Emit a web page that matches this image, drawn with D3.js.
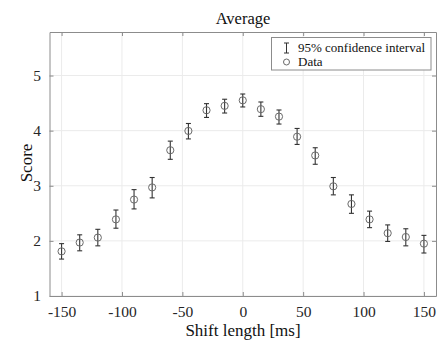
<!DOCTYPE html>
<html><head><meta charset="utf-8">
<script src="https://cdn.jsdelivr.net/npm/d3@7"></script>
<style>body{margin:0;background:#fff}svg{display:block}text{font-family:"Liberation Serif","Times New Roman",Times,serif}</style>
</head><body>
<script>
const shifts = [-150,-135,-120,-105,-90,-75,-60,-45,-30,-15,0,15,30,45,60,75,90,105,120,135,150];
const means  = [1.81,1.97,2.06,2.39,2.75,2.97,3.645,3.995,4.37,4.45,4.55,4.39,4.255,3.89,3.55,2.99,2.67,2.39,2.14,2.07,1.95];
const lower  = [1.67,1.82,1.91,2.23,2.58,2.78,3.48,3.85,4.24,4.32,4.43,4.26,4.12,3.75,3.39,2.835,2.50,2.24,1.99,1.91,1.78];
const upper  = [1.95,2.11,2.21,2.56,2.93,3.15,3.81,4.13,4.49,4.57,4.665,4.52,4.375,4.04,3.69,3.15,2.835,2.54,2.29,2.22,2.10];
const xTicks = [-150,-100,-50,0,50,100,150];
const yTicks = [1,2,3,4,5];
const legendLabels = ["95% confidence interval","Data"];

const W=439,H=341;
const m={l:49.5,t:32,r:3,b:45};
const svg=d3.select("body").append("svg").attr("width",W).attr("height",H);
const x=d3.scaleLinear().domain([-160,160]).range([m.l,W-m.r]);
const y=d3.scaleLinear().domain([1,5.79]).range([296,m.t]);
const font='"Liberation Serif","Times New Roman",Times,serif';
const fmt=d=>String(d);

// grid
const g=svg.append("g");
g.selectAll(".vg").data(xTicks).join("line").attr("x1",d=>x(d)).attr("x2",d=>x(d)).attr("y1",y(1)).attr("y2",m.t).attr("stroke","#ebebeb");
g.selectAll(".hg").data(yTicks).join("line").attr("x1",m.l).attr("x2",W-m.r).attr("y1",d=>y(d)).attr("y2",d=>y(d)).attr("stroke","#ebebeb");

// axes
const axB=svg.append("g").attr("transform",`translate(0,${y(1)})`).call(d3.axisBottom(x).tickValues(xTicks).tickFormat(fmt).tickSizeInner(-4).tickSizeOuter(0).tickPadding(10));
const axT=svg.append("g").attr("transform",`translate(0,${m.t})`).call(d3.axisTop(x).tickValues(xTicks).tickSizeInner(-4).tickSizeOuter(0).tickFormat(""));
const axL=svg.append("g").attr("transform",`translate(${m.l},0)`).call(d3.axisLeft(y).tickValues(yTicks).tickFormat(fmt).tickSizeInner(-4).tickSizeOuter(0).tickPadding(8.5));
const axR=svg.append("g").attr("transform",`translate(${W-m.r},0)`).call(d3.axisRight(y).tickValues(yTicks).tickSizeInner(-4).tickSizeOuter(0).tickFormat(""));
[axB,axT,axL,axR].forEach(a=>{
  a.attr("font-family",font).attr("font-size",15.5);
  a.select(".domain").attr("stroke","#8c8c8c");
  a.selectAll(".tick line").attr("stroke","#8c8c8c");
  a.selectAll("text").attr("fill","#262626");
});
axB.selectAll("text").attr("dy","0.71em");

// error bars
const idx=d3.range(shifts.length);
const eb=svg.append("g").attr("stroke","#333").attr("stroke-width",1.1);
eb.selectAll(".v").data(idx).join("line").attr("x1",i=>x(shifts[i])).attr("x2",i=>x(shifts[i])).attr("y1",i=>y(lower[i])).attr("y2",i=>y(upper[i]));
eb.selectAll(".c1").data(idx).join("line").attr("x1",i=>x(shifts[i])-2.5).attr("x2",i=>x(shifts[i])+2.5).attr("y1",i=>y(lower[i])).attr("y2",i=>y(lower[i]));
eb.selectAll(".c2").data(idx).join("line").attr("x1",i=>x(shifts[i])-2.5).attr("x2",i=>x(shifts[i])+2.5).attr("y1",i=>y(upper[i])).attr("y2",i=>y(upper[i]));
svg.append("g").selectAll("circle").data(idx).join("circle").attr("cx",i=>x(shifts[i])).attr("cy",i=>y(means[i])).attr("r",3.6).attr("fill","none").attr("stroke","#6a6a6a").attr("stroke-width",1);

// title and labels
svg.append("text").attr("x",243).attr("y",23.5).attr("text-anchor","middle").attr("font-family",font).attr("font-size",16.5).attr("fill","#111").text("Average");
svg.append("text").attr("x",243).attr("y",336).attr("text-anchor","middle").attr("font-family",font).attr("font-size",17).attr("fill","#111").text("Shift length [ms]");
svg.append("text").attr("transform","translate(31.5,163) rotate(-90)").attr("text-anchor","middle").attr("font-family",font).attr("font-size",17).attr("fill","#111").text("Score");

// legend
const lg=svg.append("g");
lg.append("rect").attr("x",271.5).attr("y",37.5).attr("width",159.5).attr("height",32.5).attr("fill","#fff").attr("stroke","#8c8c8c");
const lx=286.5;
lg.append("line").attr("x1",lx).attr("x2",lx).attr("y1",43).attr("y2",53).attr("stroke","#333");
lg.append("line").attr("x1",lx-2.5).attr("x2",lx+2.5).attr("y1",43).attr("y2",43).attr("stroke","#333");
lg.append("line").attr("x1",lx-2.5).attr("x2",lx+2.5).attr("y1",53).attr("y2",53).attr("stroke","#333");
lg.append("circle").attr("cx",lx).attr("cy",62).attr("r",3).attr("fill","none").attr("stroke","#6a6a6a");
lg.selectAll(".lt").data(legendLabels).join("text").attr("x",298).attr("y",(d,i)=>52+i*14).attr("font-family",font).attr("font-size",13).attr("fill","#111").text(d=>d);
</script>
</body></html>
